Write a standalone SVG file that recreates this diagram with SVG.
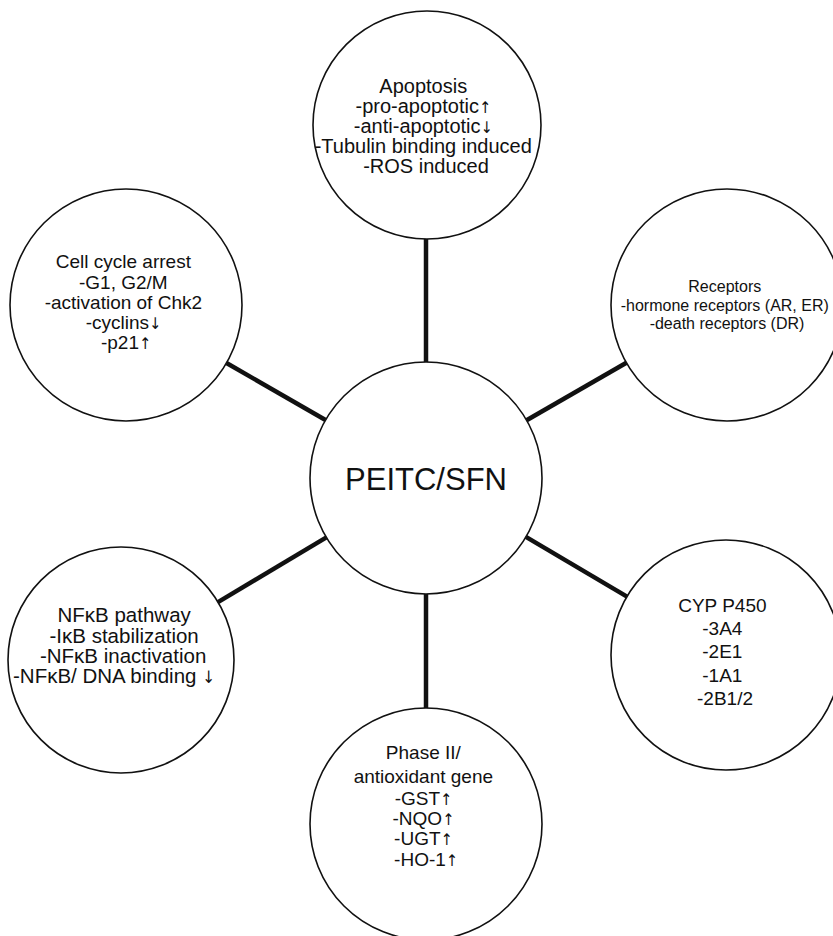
<svg xmlns="http://www.w3.org/2000/svg" width="833" height="936" viewBox="0 0 833 936">
<style>
.node{fill:#fff;stroke:#111;stroke-width:1.6}
.t{font-family:"Liberation Sans",Arial,sans-serif;font-size:19px;fill:#111;text-anchor:middle}
.s{font-size:16px}
.big{font-size:31px}
.a{font-family:"DejaVu Sans Condensed","DejaVu Sans",sans-serif;font-size:16px;fill:#111}
.c{stroke:#111;stroke-width:4.5;stroke-linecap:butt;fill:none}
</style>
<rect width="833" height="936" fill="#fff"/>
<g id="connectors">
<line class="c" x1="426" y1="237" x2="426" y2="363"/>
<line class="c" x1="325.5" y1="420" x2="226.5" y2="363"/>
<line class="c" x1="526.6" y1="420.2" x2="626.4" y2="362.8"/>
<line class="c" x1="525.9" y1="536.9" x2="627" y2="596.6"/>
<line class="c" x1="326.4" y1="537.4" x2="218" y2="602.1"/>
<line class="c" x1="426" y1="593" x2="426" y2="709"/>
</g>
<g id="center">
<circle class="node" cx="426" cy="478" r="116"/>
<text class="t big" x="426" y="490">PEITC/SFN</text>
</g>
<g id="apoptosis">
<circle class="node" cx="427" cy="125" r="114"/>
<text class="t" style="font-size:20px">
<tspan x="426" y="93">Apoptosis</tspan>
<tspan x="426" y="113">-pro-apoptotic<tspan class="a">↑&#xFE0E;</tspan></tspan>
<tspan x="426" y="133">-anti-apoptotic<tspan class="a">↓&#xFE0E;</tspan></tspan>
<tspan x="426" y="153">-Tubulin binding induced</tspan>
<tspan x="426" y="173">-ROS induced</tspan>
</text>
</g>
<g id="cellcycle">
<circle class="node" cx="126" cy="305" r="116"/>
<text class="t">
<tspan x="126" y="268">Cell cycle arrest</tspan>
<tspan x="126" y="289">-G1, G2/M</tspan>
<tspan x="126" y="309">-activation of Chk2</tspan>
<tspan x="126" y="329">-cyclins<tspan class="a">↓&#xFE0E;</tspan></tspan>
<tspan x="126" y="349">-p21<tspan class="a">↑&#xFE0E;</tspan></tspan>
</text>
</g>
<g id="receptors">
<circle class="node" cx="727" cy="305" r="116"/>
<text class="t s">
<tspan x="727" y="292">Receptors</tspan>
<tspan x="727" y="311">-hormone receptors (AR, ER)</tspan>
<tspan x="727" y="329">-death receptors (DR)</tspan>
</text>
</g>
<g id="cyp">
<circle class="node" cx="726" cy="655" r="115"/>
<text class="t">
<tspan x="725" y="612">CYP P450</tspan>
<tspan x="725" y="635">-3A4</tspan>
<tspan x="725" y="658">-2E1</tspan>
<tspan x="725" y="682">-1A1</tspan>
<tspan x="725" y="705">-2B1/2</tspan>
</text>
</g>
<g id="nfkb">
<circle class="node" cx="121" cy="660" r="113"/>
<text class="t" style="font-size:20.5px">
<tspan x="127" y="622">NFκB pathway</tspan>
<tspan x="127" y="643">-IκB stabilization</tspan>
<tspan x="126" y="663">-NFκB inactivation</tspan>
<tspan x="114" y="683">-NFκB/ DNA binding <tspan class="a" style="font-size:17px">↓&#xFE0E;</tspan></tspan>
</text>
</g>
<g id="phase2">
<circle class="node" cx="426" cy="824" r="116"/>
<text class="t">
<tspan x="426" y="759">Phase II/</tspan>
<tspan x="426" y="783">antioxidant gene</tspan>
<tspan x="426" y="805">-GST<tspan class="a">↑&#xFE0E;</tspan></tspan>
<tspan x="426" y="825">-NQO<tspan class="a">↑&#xFE0E;</tspan></tspan>
<tspan x="426" y="845">-UGT<tspan class="a">↑&#xFE0E;</tspan></tspan>
<tspan x="426" y="866">-HO-1<tspan class="a">↑&#xFE0E;</tspan></tspan>
</text>
</g>
</svg>
